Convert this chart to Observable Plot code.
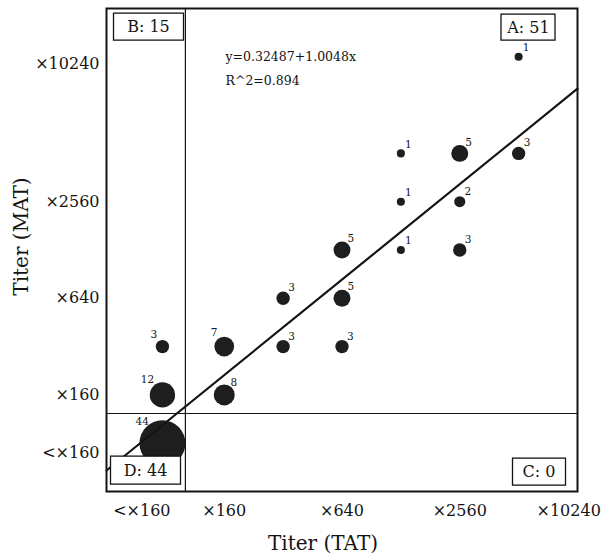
<!DOCTYPE html>
<html><head><meta charset="utf-8">
<script src="https://cdn.jsdelivr.net/npm/d3@7"></script>
<script src="https://cdn.jsdelivr.net/npm/@observablehq/plot@0.6"></script>
<style>body{margin:0;background:#fff;}</style>
</head><body><div id="chart"></div>
<script>
// ---- data (log2 steps relative to x160; "<x160" column/row placed below 0) ----
const tat   = [5, 5, 4, 3, 3, 4, 2, 3, 4, 1, 2, -1.05, 0, 1, 2, -1.05, 0, -1.05];
const mat   = [7, 5, 5, 5, 4, 4, 3, 3, 3, 2, 2, 1, 1, 1, 1, 0, 0, -1];
const count = [1, 3, 5, 1, 1, 2, 5, 1, 3, 3, 5, 3, 7, 3, 3, 12, 8, 44];
const xTickVals = [-1.4, 0, 2, 4, 5.85];
const xTickLabels = ["<×160", "×160", "×640", "×2560", "×10240"];
const yTickVals = [-1.2, 0, 2, 4, 6.85];
const yTickLabels = ["<×160", "×160", "×640", "×2560", "×10240"];
const cutX = [-0.66];
const cutY = [-0.385];
const fitIntercept = 0.411;
const fitSlope = 0.988;
const equationLines = ["y=0.32487+1.0048x", "R^2=0.894"];
const quadrantLabels = ["A: 51", "B: 15", "C: 0", "D: 44"];
const xTitle = "Titer (TAT)";
const yTitle = "Titer (MAT)";

// ---- layout config ----
const W = 602, H = 556;
const M = {top: 8, right: 25, bottom: 65, left: 106};
const xDomain = [-2, 6], yDomain = [-2, 8];
const ux = (W - M.left - M.right) / (xDomain[1] - xDomain[0]);
const uy = (H - M.top - M.bottom) / (yDomain[1] - yDomain[0]);
const R_MAX = 23, R_EXP = 0.46, countMax = d3.max(count);
const rpx = n => R_MAX * Math.pow(n / countMax, R_EXP);
const labelOnLeft = [0,0,0,0,0,0,0,0,0,0,0,1,1,0,0,1,0,1];
const FONT = "DejaVu Serif";
const INK = "#141414";

const points = tat.map((x, i) => ({x, y: mat[i], n: count[i], left: !!labelOnLeft[i]}));
const labels = points.map(p => {
  const r = rpx(p.n);
  return p.left
    ? {x: p.x - (0.5 * r + 2) / ux, y: p.y + (0.6 * r + 8) / uy, t: String(p.n), left: true}
    : {x: p.x + (0.3 * r + 3) / ux, y: p.y + (0.5 * r + 7) / uy, t: String(p.n), left: false};
});
const fitLine = xDomain.map(x => ({x, y: fitIntercept + fitSlope * x}));

const quadCfg = [
  {frameAnchor: "top-right", dx: -49, dy: 19, w: 54, h: 26},
  {frameAnchor: "top-left", dx: 42, dy: 18.5, w: 70, h: 27},
  {frameAnchor: "bottom-right", dx: -38.5, dy: -19.5, w: 53, h: 27},
  {frameAnchor: "bottom-left", dx: 39, dy: -21, w: 70, h: 28}
];

const plot = Plot.plot({
  width: W, height: H,
  marginTop: M.top, marginRight: M.right, marginBottom: M.bottom, marginLeft: M.left,
  style: {fontFamily: FONT, fontSize: "16px", background: "white", color: INK},
  x: {domain: xDomain, ticks: xTickVals, tickFormat: d => xTickLabels[xTickVals.indexOf(d)], tickSize: 0, tickPadding: 13, label: null},
  y: {domain: yDomain, ticks: yTickVals, tickFormat: d => yTickLabels[yTickVals.indexOf(d)], tickSize: 0, tickPadding: 7, label: null},
  r: {type: "pow", exponent: R_EXP, domain: [0, countMax], range: [0, R_MAX]},
  marks: [
    Plot.ruleX(cutX, {stroke: INK, strokeWidth: 1.2}),
    Plot.ruleY(cutY, {stroke: INK, strokeWidth: 1.2}),
    Plot.dot(points, {x: "x", y: "y", r: "n", fill: "#1e1e1e", stroke: "none"}),
    Plot.line(fitLine, {x: "x", y: "y", stroke: INK, strokeWidth: 2.2}),
    Plot.frame({stroke: INK, strokeWidth: 2}),
    Plot.text(labels.filter(d => !d.left), {x: "x", y: "y", text: "t", textAnchor: "start", lineAnchor: "middle", fontSize: 10.5, fill: INK}),
    Plot.text(labels.filter(d => d.left), {x: "x", y: "y", text: "t", textAnchor: "end", lineAnchor: "middle", fontSize: 10.5, fill: INK}),
    Plot.text([equationLines[0]], {frameAnchor: "top-left", dx: 119, dy: 48, textAnchor: "start", lineAnchor: "middle", fontSize: 12.5, fill: INK}),
    Plot.text([equationLines[1]], {frameAnchor: "top-left", dx: 119, dy: 72, textAnchor: "start", lineAnchor: "middle", fontSize: 12.5, fill: INK}),
    Plot.text([xTitle], {frameAnchor: "bottom", dx: -19, dy: 52, textAnchor: "middle", lineAnchor: "middle", fontSize: 20, fill: INK}),
    Plot.text([yTitle], {frameAnchor: "left", dx: -85, dy: -13.5, rotate: -90, textAnchor: "middle", lineAnchor: "middle", fontSize: 20, fill: INK}),
    ...quadrantLabels.map((t, i) => Plot.text([t], {
      frameAnchor: quadCfg[i].frameAnchor, dx: quadCfg[i].dx, dy: quadCfg[i].dy,
      textAnchor: "middle", lineAnchor: "middle", fontSize: 16, fill: INK
    }))
  ]
});
document.getElementById("chart").appendChild(plot);

// draw boxes behind quadrant labels
plot.querySelectorAll("text").forEach(t => {
  const i = quadrantLabels.indexOf(t.textContent);
  if (i < 0) return;
  const bb = t.getBBox();
  const cx = bb.x + bb.width / 2, cy = bb.y + bb.height / 2;
  const rect = document.createElementNS("http://www.w3.org/2000/svg", "rect");
  rect.setAttribute("x", cx - quadCfg[i].w / 2);
  rect.setAttribute("y", cy - quadCfg[i].h / 2);
  rect.setAttribute("width", quadCfg[i].w);
  rect.setAttribute("height", quadCfg[i].h);
  rect.setAttribute("fill", "white");
  rect.setAttribute("stroke", INK);
  rect.setAttribute("stroke-width", 1.3);
  if (t.getAttribute("transform")) rect.setAttribute("transform", t.getAttribute("transform"));
  t.parentNode.insertBefore(rect, t);
});
</script></body></html>
